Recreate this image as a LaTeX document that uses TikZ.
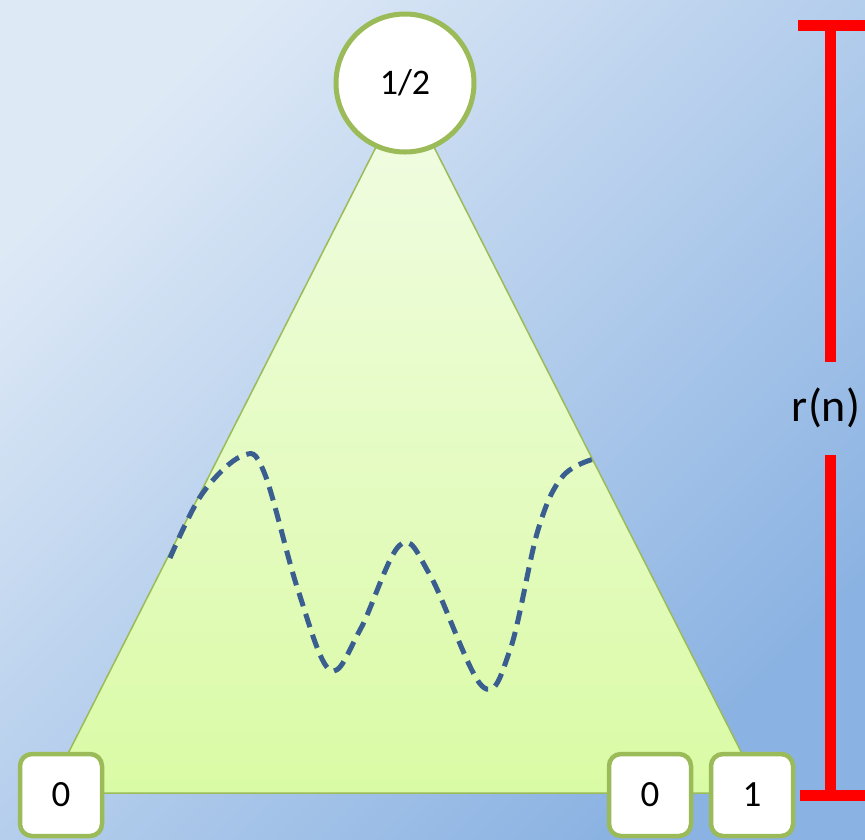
\documentclass[tikz,border=0pt]{standalone}
\usepackage{fontspec}
\setmainfont{Carlito}
\usepackage{xcolor}
\usetikzlibrary{positioning}
\definecolor{bgLight}{RGB}{222,233,246}
\definecolor{bgDark}{RGB}{138,178,226}
\definecolor{triTop}{RGB}{241,252,228}
\definecolor{triBot}{RGB}{218,251,165}
\definecolor{leafGreen}{RGB}{155,187,89}
\definecolor{waveBlue}{RGB}{58,94,144}
\tikzset{
  leafbox/.style={draw=leafGreen,line width=4.5pt,fill=white,rounded corners=12pt,
    minimum width=82pt,minimum height=82pt,inner sep=0pt,font=\fontsize{37}{42}\selectfont},
  rootnode/.style={draw=leafGreen,line width=5pt,fill=white,circle,minimum size=138pt,
    inner sep=0pt,font=\fontsize{36}{42}\selectfont},
  redbar/.style={draw=red,line width=11pt},
}
\begin{document}
\begin{tikzpicture}[x=1pt,y=-1pt]
  \useasboundingbox (0,0) rectangle (865,839);
  % background
  \shade[top color=bgLight,bottom color=bgDark,shading angle=45] (0,0) rectangle (865,839);
  % subtree triangle
  \coordinate (apex) at (405,90);
  \coordinate (bl) at (48,793);
  \coordinate (br) at (762,793);
  \shade[top color=triTop,bottom color=triBot,draw=leafGreen,line width=1.5pt]
    (apex) -- (br) -- (bl) -- cycle;
  % dashed wave
  \draw[waveBlue,line width=5pt,dash pattern=on 14pt off 8pt]
    plot[smooth,tension=0.6] coordinates {(170,558) (202,494) (242,456) (264,472)
      (298,590) (330,670) (360,630) (400,545) (430,575) (482,686) (510,650)
      (538,530) (563,476) (597,458)};
  % nodes
  \node[rootnode] (half) at (405,83) {1/2};
  \node[leafbox] (zeroL) at (61,795) {0};
  \node[leafbox] (zeroR) at (650,795) {0};
  \node[leafbox] (one) at (752,795) {1};
  % height marker
  \node[font=\fontsize{46}{52}\selectfont] (rn) at (826,408) {r(n)};
  \coordinate (topL) at (798,25);
  \coordinate (topR) at (865,25);
  \coordinate (topM) at (830,25);
  \coordinate (botL) at (800,795);
  \coordinate (botR) at (865,795);
  \coordinate (botM) at (830,795);
  \draw[redbar] (topL) -- (topR);
  \draw[redbar] (botL) -- (botR);
  \draw[redbar] (topM) -- (830,362);
  \draw[redbar] (830,455) -- (botM);
\end{tikzpicture}
\end{document}
